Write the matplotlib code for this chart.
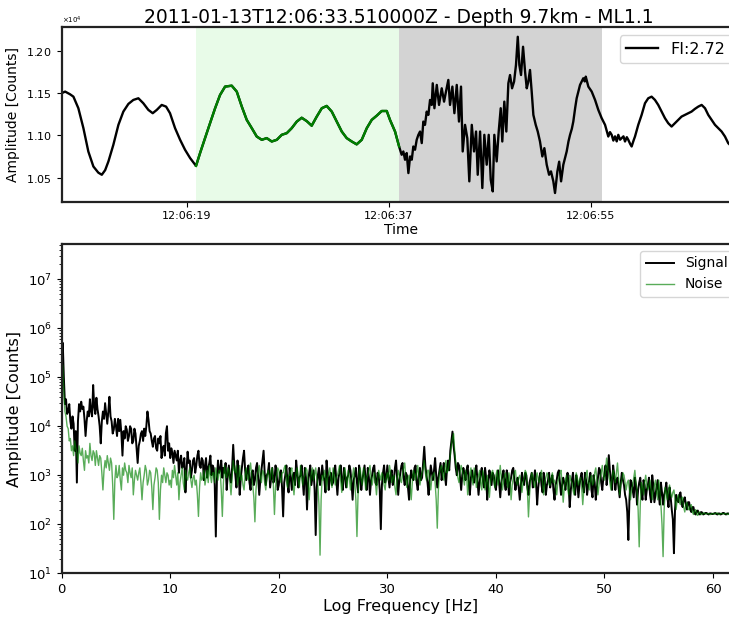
import datetime as dt
import numpy as np
import matplotlib
matplotlib.use("Agg")
import matplotlib.pyplot as plt
import matplotlib.dates as mdates
import matplotlib.ticker as mticker

# ---------------- data ----------------
title = "2011-01-13T12:06:33.510000Z - Depth 9.7km - ML1.1"
t_ref = dt.datetime(2011, 1, 13, 12, 6, 0)
fi_label = "FI:2.72"

# waveform: seconds after 12:06:00 and amplitude in counts
wave_t = [
    7.81, 8.13, 8.57, 8.87, 9.31, 9.76, 10.20, 10.65, 11.09, 11.40, 11.70, 11.99,
    12.43, 12.88, 13.32, 13.77, 14.21, 14.66, 15.10, 15.55, 15.94, 16.30, 16.74,
    17.13, 17.48, 17.93, 18.38, 18.82, 19.27, 19.80,
    20.16, 20.60, 21.05, 21.50, 21.94, 22.39, 22.98, 23.43, 23.88, 24.32, 24.77,
    25.21, 25.66, 26.10, 26.55, 27.00, 27.44, 27.89, 28.33, 28.78, 29.22, 29.67,
    30.11, 30.56, 31.01, 31.45, 31.90, 32.34, 32.79, 33.23, 33.68, 34.12, 34.57,
    35.02, 35.46, 35.91, 36.35, 36.80, 37.09, 37.54, 37.90,
    38.13, 38.28, 38.43, 38.58, 38.73, 38.88, 39.03, 39.17, 39.32, 39.47, 39.62,
    39.77, 39.92, 40.06, 40.21, 40.36, 40.51, 40.66, 40.81, 40.90, 41.05, 41.26,
    41.46, 41.70, 41.91, 42.08, 42.29, 42.44, 42.65, 42.83, 43.04, 43.24, 43.42,
    43.57, 43.78, 43.98, 44.16, 44.38, 44.58, 44.76, 44.91, 45.12, 45.32, 45.50,
    45.71, 45.89, 46.07, 46.25, 46.39, 46.60, 46.78, 46.96, 47.10, 47.28, 47.46,
    47.64, 47.79, 47.97, 48.15, 48.32, 48.48, 48.62, 48.77, 48.95, 49.13, 49.28,
    49.42, 49.57, 49.72, 49.87, 50.08, 50.26, 50.46, 50.67, 50.85, 51.06, 51.27,
    51.44, 51.65, 51.80, 52.01, 52.17, 52.34, 52.54, 52.84, 53.00, 53.14, 53.30,
    53.43, 53.60, 53.73, 54.03, 54.32, 54.45, 54.54, 54.77, 55.07, 55.37, 55.66,
    55.96, 56.26, 56.55, 56.70, 56.85, 57.00, 57.15, 57.30, 57.44, 57.60, 57.74,
    57.90, 58.04, 58.20, 58.33, 58.50, 58.63, 58.80, 58.93, 59.22, 59.52, 59.82,
    60.11, 60.41, 60.71, 61.00, 61.30, 61.60, 61.89, 62.19, 62.49, 62.79, 63.08,
    63.38, 63.68, 63.97, 64.27, 64.57, 64.87, 65.17, 65.46, 65.76, 66.06, 66.35,
    66.65, 66.95, 67.24, 67.70, 68.29,
]
wave_amp = [
    11500, 11520, 11488, 11460, 11323, 11087, 10810, 10633, 10560, 10535, 10590, 10693,
    10890, 11126, 11283, 11374, 11421, 11441, 11382, 11303, 11264, 11303, 11362,
    11342, 11264, 11087, 10949, 10831, 10733, 10640,
    10792, 10969, 11146, 11323, 11480, 11579, 11590, 11520, 11342, 11185, 11087,
    10988, 10949, 10969, 10929, 10949, 11008, 11028, 11087, 11165, 11210, 11170,
    11116, 11224, 11323, 11350, 11283, 11165, 11047, 10969, 10929, 10895, 10949,
    11087, 11185, 11235, 11290, 11290, 11185, 11047, 10870,
    10772, 10811, 10713, 10792, 10555, 10752, 10713, 10870, 10831, 10949, 11008,
    11047, 10910, 11165, 11126, 11283, 11244, 11421, 11362, 11618, 11323, 11599,
    11362, 11559, 11401, 11520, 11658, 11362, 11579, 11264, 11599, 11165, 11579,
    10811, 11126, 10969, 10457, 11126, 10811, 11047, 10535, 11047, 10378, 11008,
    10654, 11008, 10476, 10338, 11008, 10693, 11047, 11323, 10929, 11401, 11047,
    11618, 11716, 11559, 11638, 11835, 12169, 11835, 11716, 12051, 11756, 11559,
    11638, 11776, 11520, 11244, 11126, 11047, 10929, 10752, 10850, 10654, 10535,
    10575, 10457, 10319, 10575, 10690, 10457, 10654, 10811, 10930, 11008, 11080,
    11165, 11330, 11441, 11599, 11678, 11640, 11697, 11579, 11520, 11421, 11303,
    11205, 11126, 10988, 11040, 11008, 10940, 10990, 10930, 11008, 10950, 10969,
    10990, 10929, 10980, 10949, 10900, 10870, 10940, 10988, 11126, 11244, 11382,
    11441, 11460, 11421, 11362, 11283, 11205, 11146, 11106, 11146, 11185, 11224,
    11244, 11264, 11283, 11315, 11342, 11362, 11323, 11244, 11185, 11126, 11087,
    11047, 10988, 10909, 10850, 10790,
]
noise_win = (19.80, 37.90)
signal_win = (37.90, 55.96)

# spectra: log10 amplitude on a 0.1 Hz frequency grid starting at 0 Hz (one row = 5 Hz)
freq_step = 0.1
signal_log = [
    5.20, 5.70, 5.00, 4.45, 4.55, 4.25, 4.30, 4.45, 4.10, 3.95, 4.20, 4.05, 3.50, 3.90, 2.85, 4.10, 4.45, 4.30, 4.50, 4.35, 4.40, 4.15, 3.80, 4.10, 4.30,
    4.20, 4.55, 4.30, 4.20, 4.84, 4.40, 4.25, 4.58, 4.35, 4.20, 4.00, 3.65, 4.10, 4.30, 4.15, 4.47, 4.25, 4.05, 4.30, 4.60, 4.20, 4.10, 3.85, 3.93, 4.15,
    4.00, 3.80, 4.15, 3.90, 4.13, 3.85, 3.40, 3.90, 3.75, 4.00, 3.93, 3.70, 3.80, 4.00, 3.95, 3.65, 3.70, 3.95, 3.85, 3.55, 3.25, 3.60, 3.70, 3.85, 3.90,
    3.70, 3.95, 3.80, 4.00, 4.30, 4.13, 3.90, 3.85, 3.70, 3.58, 3.75, 3.80, 3.55, 3.50, 3.75, 3.65, 3.80, 3.35, 3.55, 3.60, 3.40, 3.86, 4.00, 3.50, 3.65,
    3.35, 3.55, 3.45, 3.25, 3.50, 3.40, 3.30, 3.50, 3.05, 3.30, 3.40, 3.15, 3.20, 3.35, 2.65, 3.10, 3.48, 3.25, 3.30, 2.95, 3.10, 3.30, 3.35, 3.05, 3.20,
    3.40, 3.50, 3.20, 3.15, 3.35, 3.30, 2.90, 3.20, 3.35, 2.95, 3.15, 3.25, 3.40, 3.00, 3.20, 3.15, 2.80, 1.75, 2.90, 3.30, 3.05, 3.10, 3.30, 2.95, 3.15,
    3.05, 3.25, 2.70, 3.00, 3.20, 2.95, 2.85, 3.15, 3.62, 3.20, 3.00, 2.75, 3.30, 3.05, 2.60, 2.95, 3.15, 3.35, 3.50, 3.10, 2.90, 3.10, 3.20, 2.85, 2.70,
    3.05, 3.10, 2.80, 2.90, 3.15, 3.25, 2.95, 2.60, 2.90, 3.10, 3.30, 3.50, 3.05, 2.80, 3.00, 3.05, 3.25, 2.75, 2.95, 3.15, 2.85, 2.90, 3.20, 3.05, 2.70,
    2.80, 3.05, 3.10, 2.75, 2.16, 2.85, 3.00, 3.20, 2.85, 2.65, 3.15, 2.95, 2.70, 3.00, 3.05, 2.80, 3.30, 3.05, 2.75, 2.95, 3.00, 3.20, 2.90, 2.60, 3.15,
    2.95, 2.30, 2.85, 3.05, 3.20, 2.80, 2.95, 3.10, 2.70, 1.78, 2.75, 3.00, 3.15, 2.80, 2.95, 3.20, 3.00, 2.90, 2.65, 3.30, 3.05, 2.70, 2.95, 3.05, 2.80,
    2.85, 3.10, 3.20, 2.90, 2.60, 2.95, 3.05, 3.20, 2.90, 2.70, 3.15, 3.00, 2.75, 2.95, 3.00, 3.20, 3.10, 2.85, 2.50, 2.90, 3.00, 3.15, 2.85, 2.65, 3.20,
    3.00, 2.70, 2.90, 3.05, 3.20, 2.90, 2.70, 3.15, 2.95, 2.60, 2.90, 3.00, 3.15, 3.20, 2.85, 2.80, 3.05, 3.00, 2.70, 1.90, 2.80, 3.05, 3.20, 2.85, 2.95,
    3.20, 2.95, 2.75, 3.00, 3.10, 2.80, 2.90, 3.15, 3.30, 2.95, 2.60, 2.90, 3.05, 3.20, 3.25, 2.95, 2.80, 3.05, 3.00, 2.75, 2.50, 2.90, 3.10, 2.95, 2.90,
    3.15, 3.20, 2.85, 2.70, 3.00, 3.15, 2.90, 2.95, 3.25, 3.58, 3.20, 3.00, 2.85, 2.60, 2.95, 3.20, 3.05, 2.90, 3.10, 3.35, 3.00, 2.75, 2.95, 3.10, 3.25,
    2.90, 3.10, 3.25, 3.00, 2.80, 3.15, 3.30, 3.10, 3.50, 3.70, 3.89, 3.60, 3.40, 3.15, 3.00, 3.25, 3.20, 2.95, 2.70, 3.00, 3.15, 3.05, 2.90, 3.10, 3.20,
    2.85, 2.60, 2.95, 3.10, 2.95, 2.85, 3.05, 3.20, 2.90, 2.60, 2.85, 3.05, 3.15, 2.90, 2.75, 3.15, 2.95, 2.50, 2.85, 3.10, 3.00, 2.80, 3.05, 3.00, 2.80,
    2.70, 2.95, 3.10, 2.85, 2.55, 2.85, 3.00, 3.10, 2.85, 2.70, 3.10, 2.95, 2.60, 2.85, 2.95, 3.10, 3.15, 2.90, 2.70, 2.85, 2.95, 2.75, 2.50, 2.80, 3.05,
    2.90, 2.80, 3.05, 3.00, 2.75, 2.60, 2.85, 2.95, 3.05, 2.75, 2.90, 3.10, 2.85, 2.40, 2.75, 2.95, 3.05, 2.80, 2.65, 3.05, 2.90, 2.60, 2.80, 2.90, 3.05,
    2.75, 2.90, 3.00, 2.70, 2.50, 2.80, 2.90, 3.05, 3.10, 2.85, 2.60, 2.80, 2.95, 2.85, 2.70, 2.90, 3.05, 2.80, 2.35, 2.70, 2.90, 3.05, 2.75, 2.60, 3.00,
    2.85, 2.55, 2.80, 2.95, 3.05, 2.80, 2.65, 3.05, 2.90, 2.60, 2.80, 2.90, 3.05, 2.70, 2.55, 3.00, 2.85, 2.50, 2.75, 2.95, 3.15, 3.10, 2.85, 2.70, 2.95,
    3.00, 3.20, 2.80, 3.05, 3.41, 3.10, 2.90, 2.70, 3.20, 3.00, 2.70, 2.90, 2.95, 2.75, 2.55, 2.85, 3.05, 2.90, 2.80, 2.60, 2.50, 2.25, 1.68, 2.50, 2.90,
    2.85, 2.70, 2.55, 2.95, 2.80, 2.40, 2.70, 2.85, 2.95, 2.65, 2.50, 2.90, 2.80, 2.50, 2.70, 2.80, 2.95, 2.60, 2.45, 3.00, 2.80, 2.45, 2.60, 2.75, 2.90,
    2.60, 2.40, 2.85, 2.65, 2.40, 2.60, 2.70, 2.85, 2.55, 2.35, 2.75, 2.55, 2.30, 2.10, 1.41, 2.30, 2.60, 2.50, 2.45, 2.60, 2.65, 2.45, 2.35, 2.50, 2.55,
    2.40, 2.30, 2.45, 2.45, 2.30, 2.25, 2.35, 2.35, 2.22, 2.20, 2.27, 2.28, 2.21, 2.20, 2.25, 2.24, 2.20, 2.21, 2.23, 2.23, 2.21, 2.20, 2.22, 2.22, 2.21,
    2.21, 2.22, 2.23, 2.21, 2.20, 2.22, 2.22, 2.20, 2.21, 2.23, 2.23, 2.21, 2.20, 2.22, 2.22, 2.21, 2.21, 2.23, 2.22, 2.20, 2.20, 2.22, 2.22, 2.21, 2.21,
    2.22,
]
noise_log = [
    4.80, 5.25, 4.70, 4.30, 4.20, 4.00, 3.95, 3.70, 3.75, 3.50, 3.60, 3.40, 3.70, 3.55, 3.45, 3.25, 3.60, 3.45, 3.40, 3.55, 3.30, 3.10, 3.50, 3.35, 3.40,
    3.25, 3.65, 3.40, 3.30, 3.50, 3.45, 3.20, 3.50, 3.35, 3.20, 3.40, 3.35, 3.05, 2.70, 3.10, 3.30, 3.15, 3.40, 3.25, 3.10, 3.35, 3.25, 2.80, 2.10, 2.90,
    3.20, 2.95, 3.00, 3.20, 2.90, 2.70, 3.15, 3.00, 3.25, 3.10, 3.05, 2.85, 3.20, 3.05, 2.95, 3.15, 2.60, 2.90, 3.10, 3.00, 2.90, 3.05, 3.15, 2.85, 2.50,
    2.85, 3.00, 3.20, 3.10, 2.80, 2.90, 3.10, 3.05, 2.75, 2.30, 2.80, 2.95, 3.15, 3.10, 2.85, 2.10, 2.70, 3.00, 2.85, 3.15, 3.00, 2.85, 3.05, 3.00, 2.80,
    2.90, 2.75, 3.10, 2.95, 3.20, 3.00, 2.80, 3.05, 2.50, 2.85, 3.00, 3.15, 2.85, 2.70, 3.10, 2.95, 2.90, 3.05, 3.15, 2.90, 2.75, 2.95, 3.00, 2.80, 2.90,
    2.60, 2.16, 2.75, 3.05, 2.90, 2.95, 3.10, 2.80, 2.95, 3.10, 2.85, 3.20, 3.00, 2.85, 3.05, 3.05, 2.85, 3.15, 3.00, 2.90, 3.10, 3.10, 2.70, 2.16, 2.85,
    3.20, 3.00, 2.95, 3.15, 3.10, 2.85, 2.60, 2.95, 3.30, 3.10, 3.05, 3.20, 2.80, 2.95, 3.20, 2.90, 3.00, 2.80, 2.70, 3.00, 3.15, 2.95, 2.90, 3.10, 3.25,
    3.00, 2.80, 2.55, 2.05, 2.70, 3.00, 3.10, 3.20, 2.95, 2.85, 3.10, 3.05, 2.85, 2.70, 2.95, 3.10, 3.00, 2.90, 3.10, 3.15, 2.80, 2.20, 2.75, 3.00, 3.15,
    3.10, 2.95, 2.85, 3.05, 3.05, 3.15, 3.20, 2.90, 2.75, 3.00, 3.00, 3.10, 3.15, 2.85, 2.60, 2.90, 3.05, 3.15, 2.90, 2.75, 3.20, 3.00, 2.80, 2.95, 3.00,
    3.15, 3.10, 2.85, 2.50, 2.85, 3.05, 3.15, 2.90, 3.00, 3.15, 2.95, 2.80, 2.40, 1.37, 2.50, 3.00, 2.90, 3.10, 3.00, 2.70, 2.95, 3.05, 3.15, 2.90, 2.75,
    3.15, 3.00, 2.80, 2.95, 3.00, 3.10, 3.20, 2.90, 2.65, 2.90, 3.05, 3.15, 2.90, 2.75, 3.10, 2.95, 2.70, 2.90, 3.00, 3.15, 2.85, 2.50, 1.75, 2.60, 3.05,
    3.15, 2.90, 2.80, 3.15, 3.00, 2.70, 2.95, 3.00, 3.10, 3.20, 2.95, 2.80, 2.95, 3.05, 2.85, 2.60, 2.90, 3.10, 3.00, 2.90, 3.05, 3.00, 2.80, 2.70, 2.95,
    3.05, 2.90, 3.20, 3.05, 2.85, 2.95, 3.00, 2.75, 2.60, 2.90, 3.10, 3.00, 2.90, 2.85, 3.05, 3.15, 3.25, 2.95, 2.75, 2.95, 3.00, 2.80, 2.50, 2.85, 3.10,
    3.00, 2.90, 3.05, 3.20, 2.95, 2.80, 2.95, 3.05, 3.15, 3.30, 3.05, 2.90, 3.10, 3.10, 2.85, 2.70, 2.95, 3.00, 3.05, 2.85, 2.50, 1.92, 2.70, 3.05, 3.15,
    3.20, 3.00, 2.90, 3.15, 3.30, 3.05, 3.10, 3.25, 3.40, 3.60, 3.75, 3.85, 3.50, 3.25, 3.10, 2.95, 2.85, 3.05, 3.20, 3.10, 2.95, 2.80, 3.10, 3.00, 2.60,
    2.85, 3.05, 3.15, 2.90, 2.80, 3.15, 3.00, 2.75, 2.90, 3.00, 3.10, 2.85, 2.70, 3.10, 2.95, 2.70, 2.85, 3.00, 2.80, 2.55, 2.85, 3.05, 3.10, 2.90, 2.75,
    3.00, 3.10, 2.80, 2.95, 3.20, 2.95, 2.70, 2.85, 3.00, 3.05, 2.90, 2.75, 3.05, 2.90, 2.50, 2.80, 2.95, 3.05, 3.10, 2.85, 2.80, 2.95, 3.00, 2.85, 2.65,
    2.85, 2.95, 3.10, 3.05, 2.70, 2.15, 2.60, 2.90, 3.05, 3.00, 2.80, 2.75, 2.95, 3.05, 2.90, 2.85, 3.00, 3.10, 2.85, 2.60, 2.85, 2.95, 3.05, 3.00, 2.80,
    2.80, 2.95, 3.05, 2.85, 2.90, 2.75, 2.60, 2.85, 2.95, 3.05, 3.10, 2.80, 2.45, 2.75, 2.90, 3.00, 2.75, 2.60, 3.00, 2.90, 2.85, 2.70, 2.60, 2.85, 3.05,
    2.95, 2.80, 2.90, 2.95, 2.75, 2.40, 2.70, 2.90, 3.00, 3.10, 2.85, 2.70, 2.90, 3.00, 2.80, 2.85, 3.05, 3.15, 2.90, 2.60, 2.80, 2.95, 3.05, 3.20, 3.00,
    2.90, 3.10, 3.35, 3.15, 3.00, 2.85, 2.70, 2.95, 3.10, 3.00, 2.85, 3.05, 3.25, 2.95, 2.60, 2.80, 2.90, 3.05, 3.00, 2.85, 2.70, 2.85, 2.90, 2.70, 2.50,
    2.70, 2.80, 2.95, 3.10, 2.85, 2.70, 2.30, 1.54, 2.40, 2.85, 2.75, 2.60, 2.85, 3.00, 2.80, 2.70, 2.80, 2.90, 2.70, 2.50, 2.70, 2.80, 2.90, 2.65, 2.50,
    2.90, 2.70, 2.40, 2.00, 1.34, 2.30, 2.75, 2.65, 2.50, 2.70, 2.80, 2.60, 2.55, 2.65, 2.70, 2.50, 2.30, 2.50, 2.60, 2.45, 2.40, 2.55, 2.55, 2.35, 2.25,
    2.40, 2.45, 2.30, 2.30, 2.38, 2.40, 2.25, 2.20, 2.28, 2.30, 2.20, 2.18, 2.25, 2.24, 2.20, 2.20, 2.23, 2.23, 2.21, 2.21, 2.22, 2.22, 2.20, 2.20, 2.22,
    2.22, 2.21, 2.21, 2.23, 2.23, 2.20, 2.20, 2.22, 2.22, 2.21, 2.21, 2.22, 2.22, 2.20, 2.20, 2.23, 2.23, 2.21, 2.21, 2.22, 2.22, 2.20, 2.20, 2.21, 2.21,
    2.22,
]
freq_max = 62.5
amp_min, amp_max = 10, 5.2e7
decades = [1, 2, 3, 4, 5, 6, 7]

# ---------------- figure ----------------
fig = plt.figure(figsize=(7.29, 6.21), dpi=100)
ax1 = fig.add_axes([0.0844, 0.6752, 0.9307, 0.2808])
ax2 = fig.add_axes([0.0846, 0.0768, 0.9307, 0.5303])

def to_time(s):
    return t_ref + dt.timedelta(seconds=s)

times = [to_time(s) for s in wave_t]
ax1.axvspan(to_time(noise_win[0]), to_time(noise_win[1]), color="lightgreen", alpha=0.2, lw=0)
ax1.axvspan(to_time(signal_win[0]), to_time(signal_win[1]), color="lightgrey", lw=0)
ax1.plot(times, wave_amp, color="black", lw=1.7, label=fi_label)
gi = [i for i, s in enumerate(wave_t) if noise_win[0] <= s <= noise_win[1]]
ax1.plot([times[i] for i in gi], [wave_amp[i] for i in gi], color="green", lw=1.7)

ax1.set_xlim(to_time(7.81), to_time(68.29))
ax1.set_ylim(10216, 12281)
ax1.xaxis.set_major_locator(mdates.SecondLocator(bysecond=[19, 37, 55]))
ax1.xaxis.set_major_formatter(mdates.DateFormatter("%H:%M:%S"))
ax1.ticklabel_format(axis="y", style="sci", scilimits=(0, 0), useMathText=True)
ax1.yaxis.get_offset_text().set_fontsize(5)
ax1.tick_params(labelsize=8)
ax1.set_xlabel("Time", fontsize=10, labelpad=1)
ax1.set_ylabel("Amplitude [Counts]", fontsize=10)
ax1.legend(loc="upper right", fontsize=11.5)

fig.text(0.5464, 0.9625, title, ha="center", va="baseline", fontsize=13.5)

freq_s = np.arange(len(signal_log)) * freq_step
freq_n = np.arange(len(noise_log)) * freq_step
ax2.plot(freq_s, 10 ** np.array(signal_log), color="black", lw=1.4, label="Signal")
ax2.plot(freq_n, 10 ** np.array(noise_log), color="green", lw=1.0, alpha=0.65, label="Noise")
ax2.set_yscale("log")
ax2.set_xlim(0, freq_max)
ax2.set_ylim(amp_min, amp_max)
ax2.yaxis.set_major_locator(mticker.FixedLocator([10.0 ** d for d in decades]))
minor = [k * 10.0 ** d for d in decades for k in range(2, 10) if k * 10.0 ** d <= amp_max]
ax2.yaxis.set_minor_locator(mticker.FixedLocator(minor))
ax2.yaxis.set_minor_formatter(mticker.NullFormatter())
ax2.tick_params(labelsize=9.5)
ax2.set_xlabel("Log Frequency [Hz]", fontsize=11.5, labelpad=2)
ax2.set_ylabel("Amplitude [Counts]", fontsize=11.5)
ax2.legend(loc="upper right", fontsize=10)

for ax in (ax1, ax2):
    for sp in ax.spines.values():
        sp.set_linewidth(1.6)
        sp.set_color("#222222")

fig.savefig("out.png", dpi=100)
